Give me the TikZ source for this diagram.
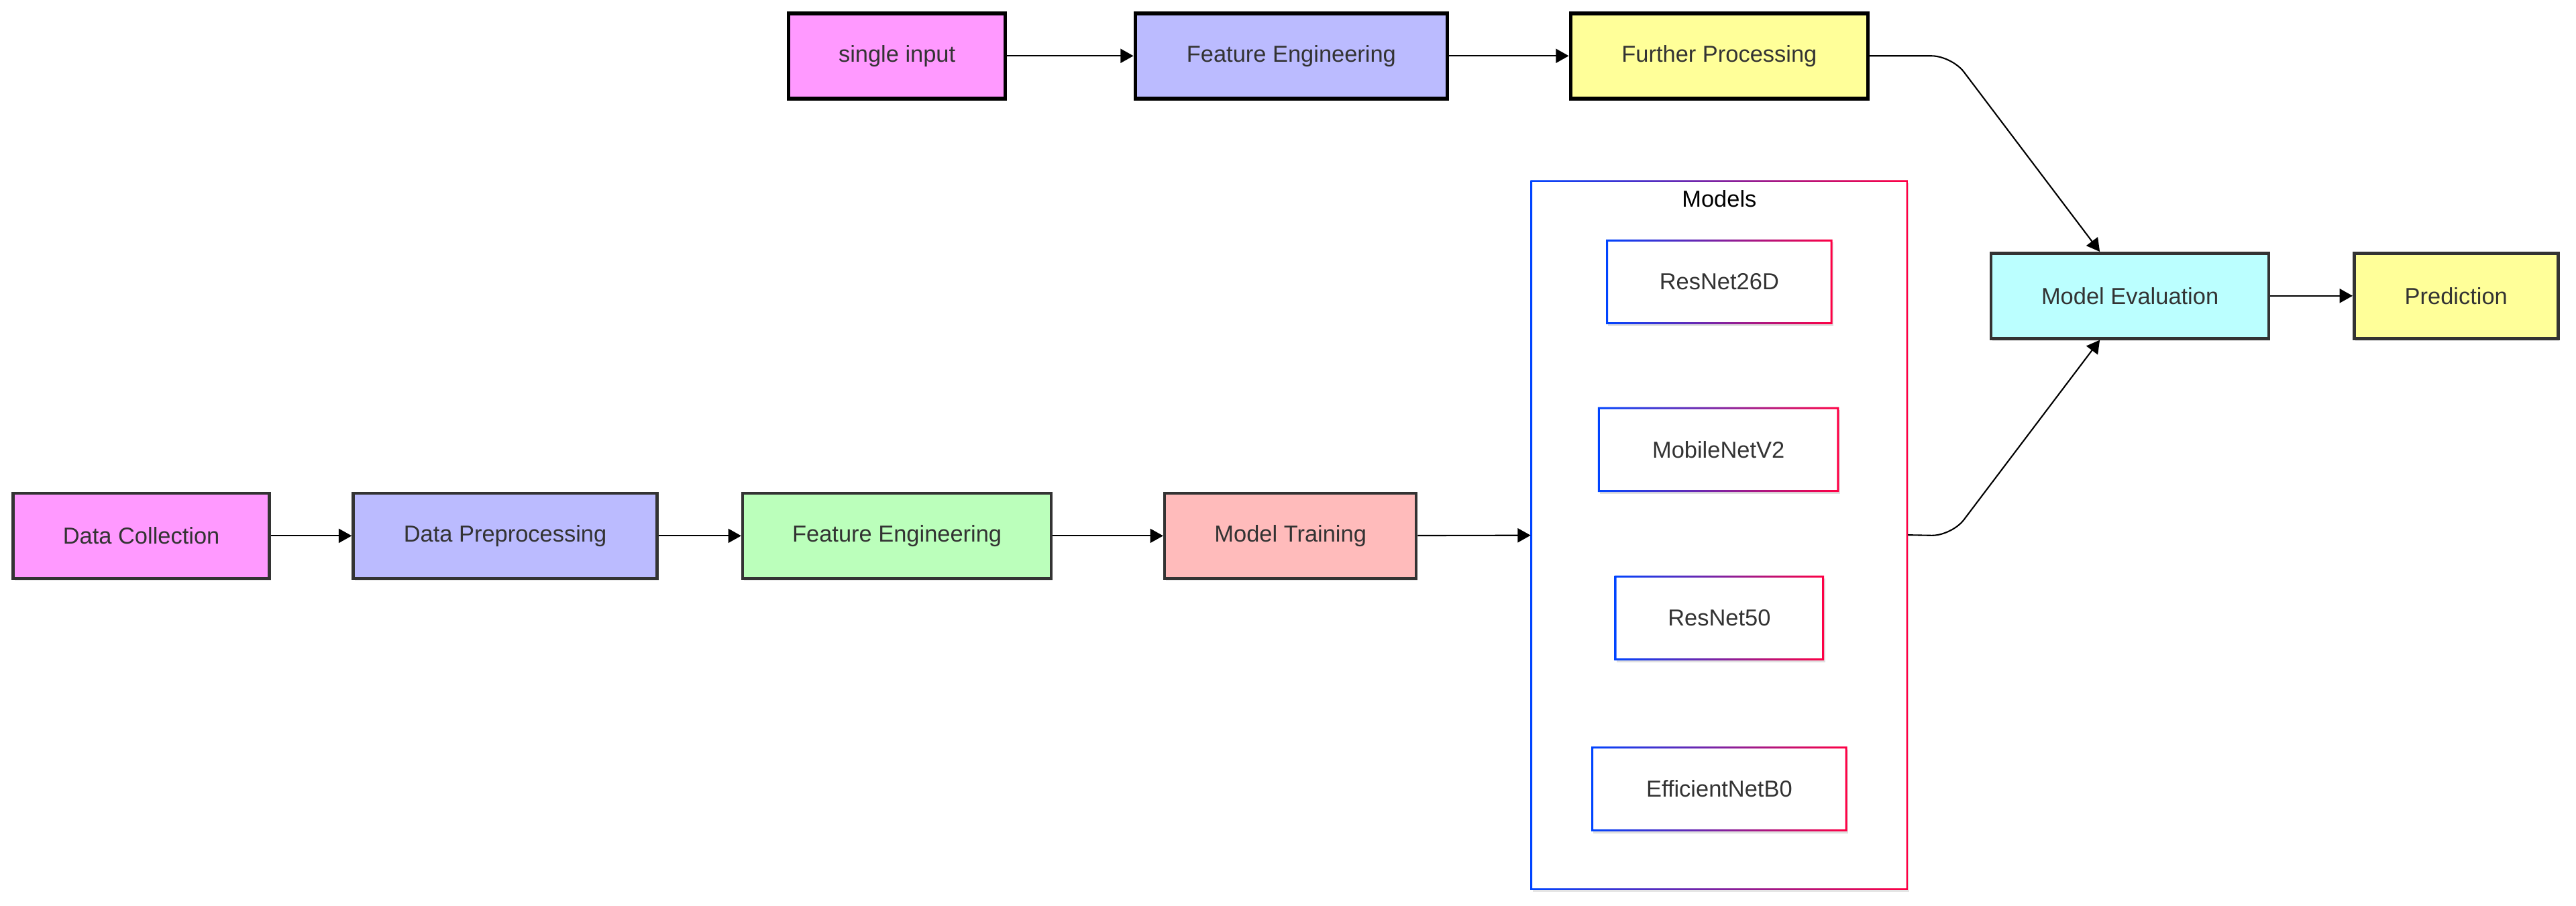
\documentclass[tikz,border=0pt]{standalone}
\usepackage{fontspec}
\setmainfont{Liberation Sans}
\usetikzlibrary{arrows.meta,shadows}
\definecolor{collectpink}{HTML}{FF99FF}
\definecolor{prepblue}{HTML}{BBBBFF}
\definecolor{featgreen}{HTML}{BBFFBB}
\definecolor{trainred}{HTML}{FFBBBB}
\definecolor{evalcyan}{HTML}{BBFFFF}
\definecolor{predyellow}{HTML}{FFFF99}
\definecolor{boxline}{HTML}{333333}
\definecolor{boxtext}{HTML}{333333}
\definecolor{gradblue}{HTML}{0044FF}
\definecolor{gradred}{HTML}{FF0044}
\newcommand{\gradframe}[2][0.03cm]{\shade[left color=gradblue,right color=gradred,even odd rule] (#2.south west) rectangle (#2.north east) ([shift={(#1,#1)}]#2.south west) rectangle ([shift={(-#1,-#1)}]#2.north east);}

\begin{document}
\begin{tikzpicture}[x=0.02449cm,y=-0.02449cm,
	box/.style={draw=boxline,line width=1.3pt,text=boxtext,font=\fontsize{9.8}{12}\selectfont,minimum height=1.27cm,inner sep=0pt,drop shadow={fill=black,opacity=0.12,shadow xshift=0.6pt,shadow yshift=-1pt}},
	topbox/.style={box,draw=black,line width=1.6pt},
	model/.style={fill=white,text=boxtext,font=\fontsize{9.8}{12}\selectfont,minimum height=1.25cm,inner sep=0pt,drop shadow={fill=black,opacity=0.12,shadow xshift=0.6pt,shadow yshift=-1pt}},
	flow/.style={-{Triangle[length=5.5pt,width=6pt]},line width=0.6pt}]
	\useasboundingbox (0,0) rectangle (1568,551);
	\node[topbox,fill=collectpink,minimum width=3.23cm] (single) at (546,34) {single input};
	\node[topbox,fill=prepblue,minimum width=4.65cm] (feattop) at (786,34) {Feature Engineering};
	\node[topbox,fill=predyellow,minimum width=4.43cm] (further) at (1046.5,34) {Further Processing};
	\node[box,fill=collectpink,minimum width=3.82cm] (collect) at (86,326) {Data Collection};
	\node[box,fill=prepblue,minimum width=4.53cm] (prep) at (307.5,326) {Data Preprocessing};
	\node[box,fill=featgreen,minimum width=4.60cm] (feat) at (546,326) {Feature Engineering};
	\node[box,fill=trainred,minimum width=3.75cm] (train) at (785.5,326) {Model Training};
	\node[fill=white,minimum width=5.61cm,minimum height=10.56cm,drop shadow={fill=black,opacity=0.1,shadow xshift=0.6pt,shadow yshift=-1pt}] (models) at (1046.5,325.5) {};
	\gradframe[0.025cm]{models}
	\node[font=\fontsize{9.8}{12}\selectfont] (modelslabel) at (1046.5,121) {Models};
	\node[model,minimum width=3.36cm] (resA) at (1046.5,171.5) {ResNet26D};
	\gradframe{resA}
	\node[model,minimum width=3.58cm] (mobile) at (1046,273.5) {MobileNetV2};
	\gradframe{mobile}
	\node[model,minimum width=3.11cm] (resB) at (1046.5,376) {ResNet50};
	\gradframe{resB}
	\node[model,minimum width=3.80cm] (effnet) at (1046.5,480) {EfficientNetB0};
	\gradframe{effnet}
	\node[box,fill=evalcyan,minimum width=4.14cm] (eval) at (1296.5,180) {Model Evaluation};
	\node[box,fill=predyellow,minimum width=3.04cm] (pred) at (1495,180) {Prediction};
	\coordinate (turntop) at (1188,34);
	\coordinate (turnbot) at (1188,326);
	\draw[flow] (single) -- (feattop);
	\draw[flow] (feattop) -- (further);
	\draw[flow] (collect) -- (prep);
	\draw[flow] (prep) -- (feat);
	\draw[flow] (feat) -- (train);
	\draw[flow] (train) -- (models);
	\draw[flow,rounded corners=0.3cm] (further.east) -- (turntop) -- ([xshift=-0.45cm]eval.north);
	\draw[flow,rounded corners=0.3cm] (models.east) -- (turnbot) -- ([xshift=-0.45cm]eval.south);
	\draw[flow] (eval) -- (pred);
\end{tikzpicture}
\end{document}
